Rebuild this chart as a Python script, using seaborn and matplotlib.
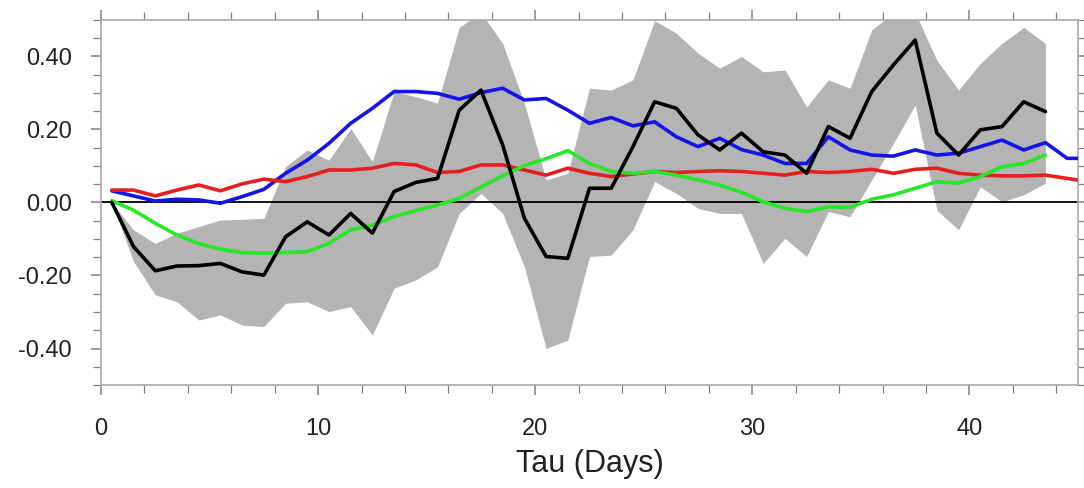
import numpy as np
import pandas as pd
import seaborn as sns
import matplotlib
matplotlib.use("Agg")
import matplotlib.pyplot as plt
from matplotlib.ticker import MultipleLocator, FormatStrFormatter

# ---- data ----
tau_short = [i + 0.5 for i in range(44)]        # 0.5 .. 43.5
tau_long = [i + 0.5 for i in range(46)]         # 0.5 .. 45.5

black = [0.000, -0.121, -0.187, -0.174, -0.173, -0.167, -0.190, -0.199, -0.094, -0.053,
         -0.089, -0.030, -0.084, 0.030, 0.055, 0.066, 0.253, 0.308, 0.158, -0.043,
         -0.148, -0.153, 0.039, 0.039, 0.153, 0.276, 0.258, 0.185, 0.144, 0.190,
         0.139, 0.130, 0.080, 0.208, 0.176, 0.304, 0.377, 0.445, 0.190, 0.130,
         0.199, 0.208, 0.276, 0.249]

green = [0.005, -0.021, -0.057, -0.089, -0.112, -0.128, -0.137, -0.139, -0.137, -0.135,
         -0.112, -0.075, -0.062, -0.039, -0.022, -0.007, 0.011, 0.042, 0.073, 0.101,
         0.120, 0.142, 0.107, 0.085, 0.080, 0.085, 0.075, 0.062, 0.048, 0.028,
         0.002, -0.016, -0.025, -0.012, -0.013, 0.009, 0.021, 0.039, 0.057, 0.053,
         0.071, 0.098, 0.107, 0.130]

blue = [0.032, 0.018, 0.004, 0.009, 0.007, -0.002, 0.016, 0.036, 0.080, 0.116,
        0.162, 0.217, 0.258, 0.304, 0.304, 0.299, 0.283, 0.301, 0.313, 0.281,
        0.285, 0.253, 0.217, 0.233, 0.210, 0.221, 0.180, 0.153, 0.176, 0.145,
        0.130, 0.107, 0.107, 0.180, 0.144, 0.130, 0.127, 0.144, 0.130, 0.135,
        0.153, 0.171, 0.144, 0.164, 0.121, 0.121]

red = [0.034, 0.034, 0.018, 0.034, 0.048, 0.032, 0.051, 0.064, 0.057, 0.071,
       0.089, 0.089, 0.094, 0.107, 0.103, 0.082, 0.085, 0.103, 0.103, 0.089,
       0.075, 0.094, 0.080, 0.071, 0.078, 0.085, 0.082, 0.085, 0.087, 0.085,
       0.080, 0.075, 0.085, 0.082, 0.085, 0.091, 0.080, 0.091, 0.094, 0.080,
       0.075, 0.073, 0.073, 0.075, 0.066, 0.057]

band_upper = [0.000, -0.075, -0.112, -0.084, -0.066, -0.048, -0.046, -0.043, 0.098, 0.144,
              0.116, 0.203, 0.112, 0.304, 0.290, 0.272, 0.480, 0.520, 0.436, 0.272,
              0.062, 0.080, 0.313, 0.308, 0.336, 0.498, 0.464, 0.409, 0.368, 0.400,
              0.358, 0.363, 0.262, 0.336, 0.313, 0.473, 0.520, 0.520, 0.390, 0.308,
              0.381, 0.436, 0.480, 0.436]

band_lower = [0.000, -0.162, -0.253, -0.272, -0.322, -0.308, -0.336, -0.340, -0.276, -0.272,
              -0.299, -0.285, -0.363, -0.235, -0.212, -0.176, -0.030, 0.025, -0.030, -0.176,
              -0.400, -0.377, -0.148, -0.144, -0.075, 0.057, 0.025, -0.016, -0.030, -0.030,
              -0.167, -0.098, -0.148, -0.025, -0.039, 0.062, 0.162, 0.267, -0.021, -0.075,
              0.043, 0.002, 0.021, 0.053]

xticks = [0, 10, 20, 30, 40]
yticks = [-0.4, -0.2, 0.0, 0.2, 0.4]

# ---- style ----
sns.set_theme(style="ticks")
plt.rcParams['font.family'] = ['Liberation Sans', 'DejaVu Sans']

fig = plt.figure(figsize=(10.84, 4.88), dpi=100)
ax = fig.add_axes([101 / 1084, 1 - 385 / 488, (1078 - 101) / 1084, (385 - 20) / 488])

ax.fill_between(tau_short, band_lower, band_upper, color="#b4b4b4", linewidth=0, zorder=1)
ax.axhline(0.0, color="black", linewidth=1.3, zorder=2)

df = pd.concat([
    pd.DataFrame({"tau": tau_long, "value": blue, "series": "blue"}),
    pd.DataFrame({"tau": tau_long, "value": red, "series": "red"}),
    pd.DataFrame({"tau": tau_short, "value": green, "series": "green"}),
    pd.DataFrame({"tau": tau_short, "value": black, "series": "black"}),
])
palette = {"blue": "#1414e6", "red": "#e61e1e", "green": "#28e628", "black": "#000000"}
sns.lineplot(data=df, x="tau", y="value", hue="series", palette=palette,
             linewidth=2.6, legend=False, ax=ax, zorder=3, sort=False,
             estimator=None)

ax.set_xlim(0, 45)
ax.set_ylim(-0.5, 0.5)
ax.set_xticks(xticks)
ax.set_yticks(yticks)
ax.xaxis.set_minor_locator(MultipleLocator(2))
ax.yaxis.set_minor_locator(MultipleLocator(0.05))
ax.yaxis.set_major_formatter(FormatStrFormatter('%.2f'))

frame_col = "#a8a8a8"
for s in ax.spines.values():
    s.set_visible(True)
    s.set_color(frame_col)
    s.set_linewidth(1.2)

ax.tick_params(axis='both', which='both', direction='out', color="#808080",
               top=True, right=True, labeltop=False, labelright=False,
               labelsize=17, labelcolor="#222222")
ax.tick_params(which='major', length=7, width=1.1)
ax.tick_params(which='minor', length=5.5, width=0.9)
ax.tick_params(axis='x', which='major', pad=17)
ax.tick_params(axis='y', which='major', pad=14)

ax.set_xlabel("Tau (Days)", fontsize=22, color="#222222", labelpad=6)
ax.set_ylabel("")
ax.set_facecolor("white")
fig.patch.set_facecolor("white")

fig.savefig("out.png", dpi=100)
